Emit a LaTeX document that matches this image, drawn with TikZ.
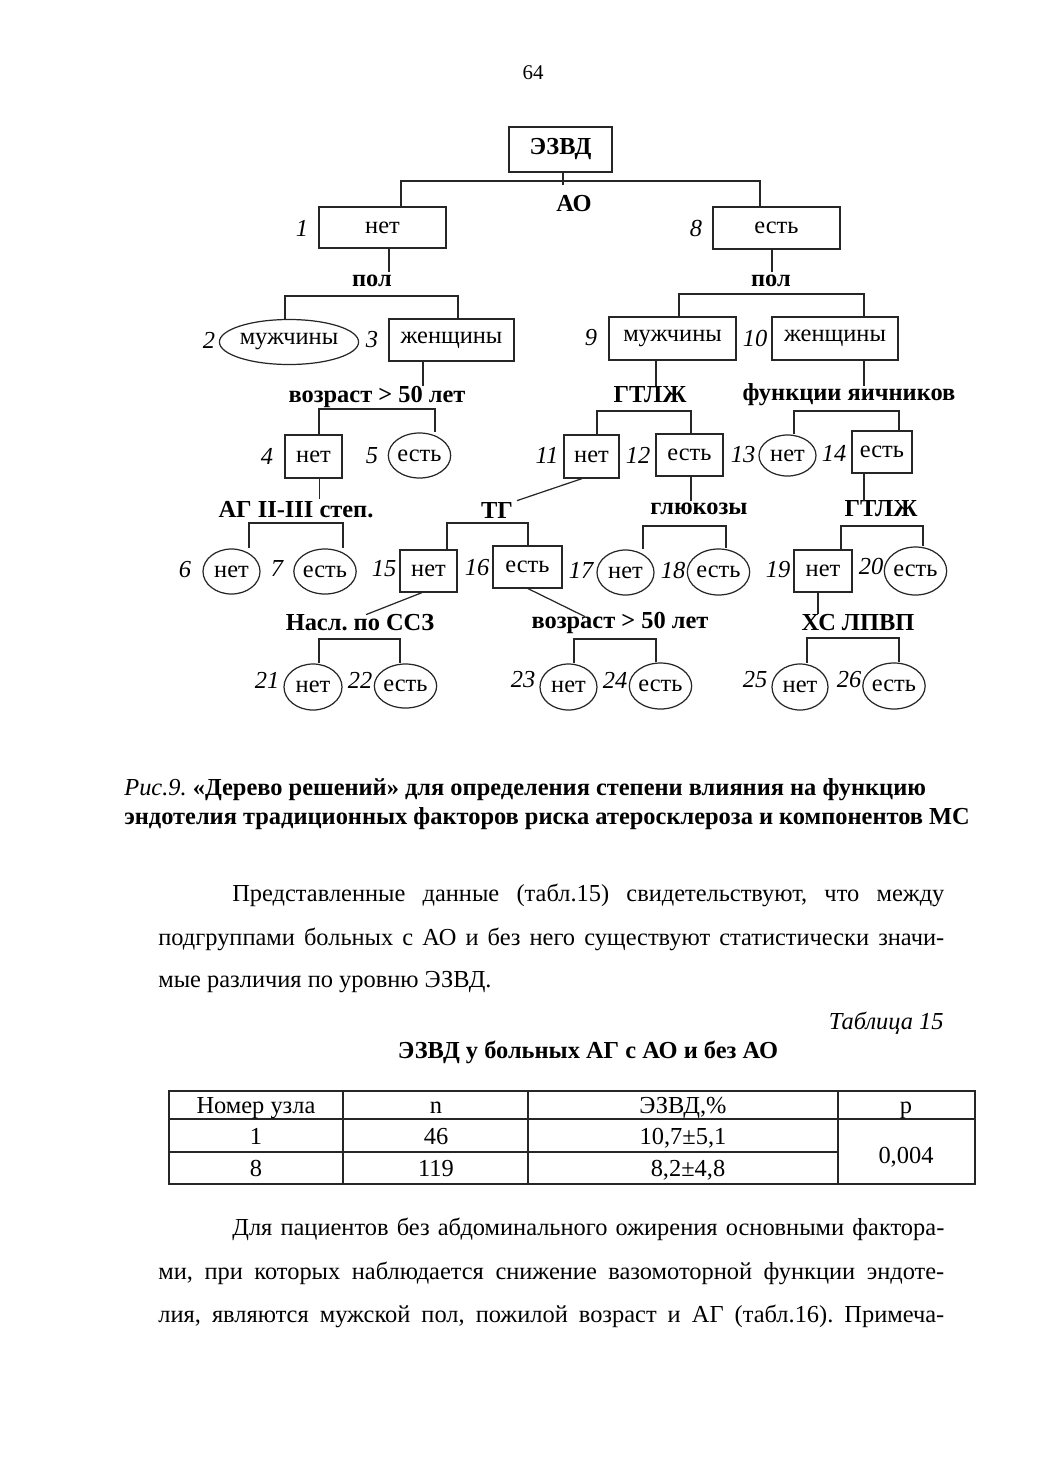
\documentclass[tikz,border=0pt]{standalone}
\usepackage{fontspec}
\setmainfont{Liberation Serif}
\usetikzlibrary{shapes.geometric,calc}
\def\px{0.5733pt}
\frenchspacing
\begin{document}
\frenchspacing
\begin{tikzpicture}[x=0.5733pt,y=-0.5733pt,
  every node/.style={inner sep=0pt,font=\fontsize{14pt}{16pt}\selectfont},
  ln/.style={draw=black!85,line width=0.7pt},
  bx/.style 2 args={ln,rectangle,minimum width=#1*\px,minimum height=#2*\px},
  el/.style 2 args={ln,ellipse,minimum width=#1*\px,minimum height=#2*\px},
  num/.style={font=\fontsize{14pt}{16pt}\selectfont\itshape},
  lb/.style={font=\fontsize{14pt}{16pt}\selectfont\bfseries},
  txt/.style={anchor=base west,font=\fontsize{14pt}{16pt}\selectfont\frenchspacing},
  cell/.style={anchor=base,font=\fontsize{14pt}{16pt}\selectfont}]
\fill[white] (0,0) rectangle (1039,1471);
\useasboundingbox (0,0) rectangle (1039,1471);

% page number
\node[anchor=base,font=\fontsize{12pt}{14pt}\selectfont] (pg) at (533,79) {64};

% ---------- tree nodes ----------
\node[bx={103}{45},lb] (root) at (560.5,149.5) {ЭЗВД};
\node[bx={127}{41}] (n1) at (382.5,227.5) {нет};
\node[bx={127}{42}] (n8) at (776.5,228) {есть};
\node[el={128}{45}] (n2) at (289,342) {мужчины};
\node[bx={125}{42}] (n3) at (451.5,340) {женщины};
\node[bx={127}{43}] (n9) at (672.5,338.5) {мужчины};
\node[bx={126}{43}] (n10) at (835,338.5) {женщины};
\node[bx={57}{43}] (n4) at (313.5,456.5) {нет};
\node[el={61}{45}] (n5) at (419.5,455.5) {есть};
\node[bx={55}{43}] (n11) at (591.5,456.5) {нет};
\node[bx={67}{42}] (n12) at (689.5,455) {есть};
\node[el={57}{41}] (n13) at (787.5,455.5) {нет};
\node[bx={60}{42}] (n14) at (882,452) {есть};
\node[el={57}{45}] (n6) at (231.5,571.5) {нет};
\node[el={56}{45}] (n7) at (325,571.5) {есть};
\node[bx={57}{42}] (n15) at (428.5,571) {нет};
\node[bx={69}{42}] (n16) at (527.5,567) {есть};
\node[el={57}{45}] (n17) at (625.5,572.5) {нет};
\node[el={57}{46}] (n18) at (718.5,572) {есть};
\node[bx={58}{42}] (n19) at (823,571) {нет};
\node[el={55}{48}] (n20) at (915.5,571) {есть};
\node[el={58}{46}] (n21) at (313,687) {нет};
\node[el={55}{44}] (n22) at (405.5,686) {есть};
\node[el={57}{46}] (n23) at (568.5,687) {нет};
\node[el={55}{46}] (n24) at (660.5,686) {есть};
\node[el={56}{46}] (n25) at (800,687) {нет};
\node[el={56}{46}] (n26) at (894,686) {есть};

% ---------- node numbers ----------
\node[num] (k1) at (302,228) {1};
\node[num] (k8) at (696,228) {8};
\node[num] (k2) at (209,340) {2};
\node[num] (k3) at (372,340) {3};
\node[num] (k9) at (591,338) {9};
\node[num] (k10) at (755,338) {10};
\node[num] (k4) at (267,456) {4};
\node[num] (k5) at (372,456) {5};
\node[num] (k11) at (547,455) {11};
\node[num] (k12) at (638,455) {12};
\node[num] (k13) at (743,455) {13};
\node[num] (k14) at (834,453) {14};
\node[num] (k6) at (185,570) {6};
\node[num] (k7) at (277,568) {7};
\node[num] (k15) at (384,569) {15};
\node[num] (k16) at (477,568) {16};
\node[num] (k17) at (581,570) {17};
\node[num] (k18) at (673,570) {18};
\node[num] (k19) at (778,570) {19};
\node[num] (k20) at (871,566) {20};
\node[num] (k21) at (267,680) {21};
\node[num] (k22) at (360,680) {22};
\node[num] (k23) at (523,680) {23};
\node[num] (k24) at (615,680) {24};
\node[num] (k25) at (755,680) {25};
\node[num] (k26) at (849,680) {26};

% ---------- split labels ----------
\node[lb] (sAO) at (574,204) {АО};
\node[lb] (sPol1) at (372,281) {пол};
\node[lb] (sPol8) at (771,281) {пол};
\node[lb] (sAge3) at (377,397) {возраст > 50 лет};
\node[lb] (sLV9) at (650,395) {ГТЛЖ};
\node[lb] (sOv) at (849,395) {функции яичников};
\node[lb] (sAG) at (296,510) {АГ II-III степ.};
\node[lb] (sTG) at (497,510) {ТГ};
\node[lb] (sGl) at (699,509) {глюкозы};
\node[lb] (sLV14) at (881,509) {ГТЛЖ};
\node[lb] (sHer) at (360,623) {Насл. по ССЗ};
\node[lb] (sAge16) at (620,623) {возраст > 50 лет};
\node[lb] (sHDL) at (858,623) {ХС ЛПВП};

% ---------- stubs from parent nodes ----------
\draw[ln] ($(root.south)+(2.5,0)$) -- ++(0,12);
\draw[ln] ($(n1.south)+(6.5,0)$) -- ++(0,23);
\draw[ln] ($(n8.south)+(-4.5,0)$) -- ++(0,22);
\draw[ln] ($(n3.south)+(-28.5,0)$) -- ++(0,24);
\draw[ln] ($(n9.south)+(-16.5,0)$) -- ++(0,25);
\draw[ln] ($(n10.south)+(29,0)$) -- ++(0,25);
\draw[ln] ($(n4.south)+(6,0)$) -- ++(0,20);
\draw[ln] ($(n12.south)+(1.5,0)$) -- ++(0,24);
\draw[ln] ($(n14.south)+(-18,0)$) -- ++(0,27);
\draw[ln] ($(n19.south)+(-5,0)$) -- ++(0,21);
\draw[ln] ($(n11.south)+(-9.5,0)$) -- ++(-65,22);
\draw[ln] ($(n15.south)+(-6.5,0)$) -- ++(-56,22);
\draw[ln] ($(n16.south)+(0.5,0)$) -- ++(57,28);

% ---------- brackets to children ----------
\coordinate (aL) at (401,181);  \coordinate (aR) at (760,181);
\draw[ln] (n1.north -| aL) -- (aL) -- (aR) -- (aR |- n8.north);
\coordinate (bL) at (285,296);  \coordinate (bR) at (458,296);
\draw[ln] (n2.north -| bL) -- (bL) -- (bR) -- (bR |- n3.north);
\coordinate (cL) at (679,294);  \coordinate (cR) at (864,294);
\draw[ln] (n9.north -| cL) -- (cL) -- (cR) -- (cR |- n10.north);
\coordinate (dL) at (319,409);  \coordinate (dR) at (435,409);
\draw[ln] (n4.north -| dL) -- (dL) -- (dR) -- (dR |- n5.north);
\coordinate (eL) at (597,411);  \coordinate (eR) at (691,411);
\draw[ln] (n11.north -| eL) -- (eL) -- (eR) -- (eR |- n12.north);
\coordinate (fL) at (794,411);  \coordinate (fR) at (899,411);
\draw[ln] (n13.north -| fL) -- (fL) -- (fR) -- (fR |- n14.north);
\coordinate (gL) at (249,523);  \coordinate (gR) at (343,523);
\draw[ln] (n6.north -| gL) -- (gL) -- (gR) -- (gR |- n7.north);
\coordinate (hL) at (447,523);  \coordinate (hR) at (528,523);
\draw[ln] (n15.north -| hL) -- (hL) -- (hR) -- (hR |- n16.north);
\coordinate (iL) at (643,526);  \coordinate (iR) at (726,526);
\draw[ln] (n17.north -| iL) -- (iL) -- (iR) -- (iR |- n18.north);
\coordinate (jL) at (841,526);  \coordinate (jR) at (923,526);
\draw[ln] (n19.north -| jL) -- (jL) -- (jR) -- (jR |- n20.north);
\coordinate (kL) at (319,639);  \coordinate (kR) at (400,639);
\draw[ln] (n21.north -| kL) -- (kL) -- (kR) -- (kR |- n22.north);
\coordinate (lL) at (574,639);  \coordinate (lR) at (656,639);
\draw[ln] (n23.north -| lL) -- (lL) -- (lR) -- (lR |- n24.north);
\coordinate (mL) at (807,638);  \coordinate (mR) at (899,638);
\draw[ln] (n25.north -| mL) -- (mL) -- (mR) -- (mR |- n26.north);

% ---------- caption ----------
\node[txt] (cap1) at (124,795) {\textit{Рис.9.} \textbf{«Дерево решений» для определения степени влияния на функцию}};
\node[txt] (cap2) at (124,824) {\textbf{эндотелия традиционных факторов риска атеросклероза и компонентов МС}};

% ---------- paragraph 1 ----------
\node[txt] (p1a) at (232,901) {\makebox[408.2pt][s]{Представленные данные (табл.15) свидетельствуют, что между}};
\node[txt] (p1b) at (158,945) {\makebox[450.6pt][s]{подгруппами больных с АО и без него существуют статистически значи-}};
\node[txt] (p1c) at (158,987) {мые различия по уровню ЭЗВД.};

\node[anchor=base east,font=\fontsize{14pt}{16pt}\selectfont\itshape] (tabno) at (944,1029) {Таблица 15};
\node[anchor=base,font=\fontsize{14pt}{16pt}\selectfont\bfseries] (tabtitle) at (588,1058) {ЭЗВД у больных АГ с АО и без АО};

% ---------- table ----------
\draw[ln] (169,1091) rectangle (975,1184);
\draw[ln] (169,1119) -- (975,1119);
\draw[ln] (169,1152) -- (838,1152);
\draw[ln] (343,1091) -- (343,1184);
\draw[ln] (528,1091) -- (528,1184);
\draw[ln] (838,1091) -- (838,1184);
\node[cell] (h1) at (256,1113) {Номер узла};
\node[cell] (h2) at (436,1113) {n};
\node[cell] (h3) at (683,1113) {ЭЗВД,\%};
\node[cell] (h4) at (906,1113) {p};
\node[cell] (r11) at (256,1144) {1};
\node[cell] (r12) at (436,1144) {46};
\node[cell] (r13) at (683,1144) {10,7±5,1};
\node[cell] (r21) at (256,1176) {8};
\node[cell] (r22) at (436,1176) {119};
\node[cell] (r23) at (688,1176) {8,2±4,8};
\node[cell] (r4) at (906,1163) {0,004};

% ---------- paragraph 2 ----------
\node[txt] (p2a) at (232,1235) {\makebox[408.2pt][s]{Для пациентов без абдоминального ожирения основными фактора-}};
\node[txt] (p2b) at (158,1279) {\makebox[450.6pt][s]{ми, при которых наблюдается снижение вазомоторной функции эндоте-}};
\node[txt] (p2c) at (158,1322) {\makebox[450.6pt][s]{лия, являются мужской пол, пожилой возраст и АГ (табл.16). Примеча-}};
\end{tikzpicture}
\end{document}
